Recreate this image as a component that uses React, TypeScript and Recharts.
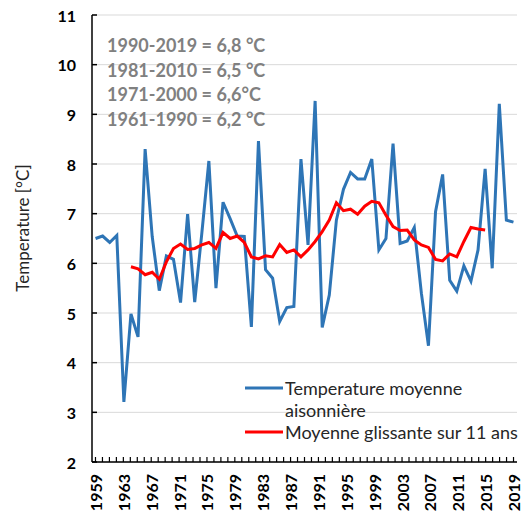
import React from 'react';
import { LineChart, Line, XAxis, YAxis, CartesianGrid } from 'recharts';

const years = [
  1959, 1960, 1961, 1962, 1963, 1964, 1965, 1966, 1967, 1968,
  1969, 1970, 1971, 1972, 1973, 1974, 1975, 1976, 1977, 1978,
  1979, 1980, 1981, 1982, 1983, 1984, 1985, 1986, 1987, 1988,
  1989, 1990, 1991, 1992, 1993, 1994, 1995, 1996, 1997, 1998,
  1999, 2000, 2001, 2002, 2003, 2004, 2005, 2006, 2007, 2008,
  2009, 2010, 2011, 2012, 2013, 2014, 2015, 2016, 2017, 2018,
];

const seasonalMean = [
  6.5, 6.55, 6.42, 6.56, 3.21, 4.98, 4.52, 8.3, 6.54, 5.45,
  6.15, 6.08, 5.21, 6.99, 5.22, 6.6, 8.06, 5.5, 7.23, 6.9,
  6.55, 6.54, 4.72, 8.46, 5.87, 5.7, 4.83, 5.11, 5.13, 8.1,
  6.37, 9.27, 4.71, 5.36, 6.87, 7.49, 7.83, 7.7, 7.7, 8.1,
  6.27, 6.5, 8.41, 6.4, 6.45, 6.72, 5.4, 4.34, 7.04, 7.79,
  5.66, 5.44, 5.95, 5.64, 6.27, 7.9, 5.9, 9.21, 6.87, 6.83,
];

const movingAvgStart = 1964;
const movingAvg = [
  5.93, 5.89, 5.77, 5.82, 5.68, 6.03, 6.3, 6.39, 6.28, 6.3,
  6.37, 6.42, 6.3, 6.62, 6.5, 6.55, 6.42, 6.13, 6.09, 6.15,
  6.13, 6.38, 6.22, 6.27, 6.13, 6.27, 6.44, 6.64, 6.87, 7.22,
  7.06, 7.09, 6.99, 7.15, 7.25, 7.22, 6.97, 6.74, 6.66, 6.67,
  6.47, 6.37, 6.32, 6.08, 6.05, 6.19, 6.13, 6.44, 6.72, 6.69,
  6.67,
];

const yTicks = [2, 3, 4, 5, 6, 7, 8, 9, 10, 11];
const axisYears = Array.from({ length: 61 }, (_, i) => 1959 + i);
const labelEvery = 4;

const normals = [
  '1990-2019 = 6,8 °C',
  '1981-2010 = 6,5 °C',
  '1971-2000 = 6,6°C',
  '1961-1990 = 6,2 °C',
];

const legendItems = [
  { lines: ['Temperature moyenne', 'aisonnière'], color: '#2E75B6' },
  { lines: ['Moyenne glissante sur 11 ans'], color: '#FF0000' },
];

const rows = years.map((year, i) => {
  const k = year - movingAvgStart;
  return {
    year,
    temp: seasonalMean[i],
    avg: k >= 0 && k < movingAvg.length ? movingAvg[k] : null,
  };
});

const FONT = 'Lato, "Open Sans", sans-serif';

const YTick = (props: any) => {
  const { x, y, payload } = props;
  return (
    <g>
      <line x1={x} x2={x + 5} y1={y} y2={y} stroke="#000" strokeWidth={1.5} />
      <text
        x={x - 16}
        y={y}
        textAnchor="end"
        dominantBaseline="central"
        fontFamily={FONT}
        fontWeight={700}
        fontSize={16}
        fill="#000"
      >
        {payload.value}
      </text>
    </g>
  );
};

const XTick = (props: any) => {
  const { x, y, payload } = props;
  const yr = payload.value as number;
  const show = (yr - axisYears[0]) % labelEvery === 0;
  return (
    <g>
      <line x1={x} x2={x} y1={y} y2={y - 5} stroke="#000" strokeWidth={1.2} />
      {show && (
        <text
          transform={`translate(${x},${y + 12}) rotate(-90)`}
          textAnchor="end"
          dominantBaseline="central"
          fontFamily={FONT}
          fontWeight={700}
          fontSize={16}
          fill="#000"
        >
          {yr}
        </text>
      )}
    </g>
  );
};

const YTitle = () => (
  <text
    transform="translate(22,228) rotate(-90)"
    textAnchor="middle"
    dominantBaseline="central"
    fontFamily={FONT}
    fontSize={17}
    fill="#262626"
  >
    Temperature [°C]
  </text>
);

export default function App() {
  return (
    <div style={{ position: 'absolute', left: 0, top: 0, width: 528, height: 515, background: '#fff' }}>
      <LineChart
        width={528}
        height={515}
        data={rows}
        margin={{ top: 15, right: 11, bottom: 0, left: 0 }}
      >
        <CartesianGrid vertical={false} stroke="#d9d9d9" strokeWidth={1} yAxisId="y" xAxisId="data" />
        <XAxis
          xAxisId="data"
          dataKey="year"
          type="number"
          domain={[1958.5, 2018.5]}
          allowDataOverflow
          height={0}
          hide
        />
        <XAxis
          xAxisId="lbl"
          dataKey="year"
          type="number"
          domain={[1958.5, 2019.5]}
          allowDataOverflow
          ticks={axisYears}
          interval={0}
          tick={<XTick />}
          tickLine={false}
          tickSize={0}
          tickMargin={0}
          height={53}
          axisLine={{ stroke: '#000', strokeWidth: 1.5 }}
        />
        <YAxis
          yAxisId="y"
          type="number"
          domain={[2, 11]}
          ticks={yTicks}
          interval={0}
          width={92}
          tick={<YTick />}
          tickLine={false}
          tickSize={0}
          tickMargin={0}
          axisLine={{ stroke: '#000', strokeWidth: 1.5 }}
          label={<YTitle />}
        />
        <Line
          xAxisId="data"
          yAxisId="y"
          type="linear"
          dataKey="temp"
          name="Temperature moyenne saisonnière"
          stroke="#2E75B6"
          strokeWidth={3}
          dot={false}
          isAnimationActive={false}
        />
        <Line
          xAxisId="data"
          yAxisId="y"
          type="linear"
          dataKey="avg"
          name="Moyenne glissante sur 11 ans"
          stroke="#FF0000"
          strokeWidth={3}
          dot={false}
          connectNulls={false}
          isAnimationActive={false}
        />
      </LineChart>

      <div style={{ position: 'absolute', left: 107, top: 33, fontFamily: FONT, fontWeight: 700, fontSize: 18, color: '#808080', lineHeight: '24.5px', whiteSpace: 'nowrap' }}>
        {normals.map((t) => (
          <div key={t}>{t}</div>
        ))}
      </div>

      <div style={{ position: 'absolute', left: 245, top: 377, fontFamily: FONT, fontSize: 18, color: '#262626', lineHeight: '22px', whiteSpace: 'nowrap' }}>
        {legendItems.map((it) => (
          <div key={it.lines[0]} style={{ display: 'flex', alignItems: 'flex-start' }}>
            <svg width={40} height={22} style={{ flex: 'none' }}>
              <line x1={0} x2={38} y1={11} y2={11} stroke={it.color} strokeWidth={3} />
            </svg>
            <div>
              {it.lines.map((l) => (
                <div key={l}>{l}</div>
              ))}
            </div>
          </div>
        ))}
      </div>
    </div>
  );
}
